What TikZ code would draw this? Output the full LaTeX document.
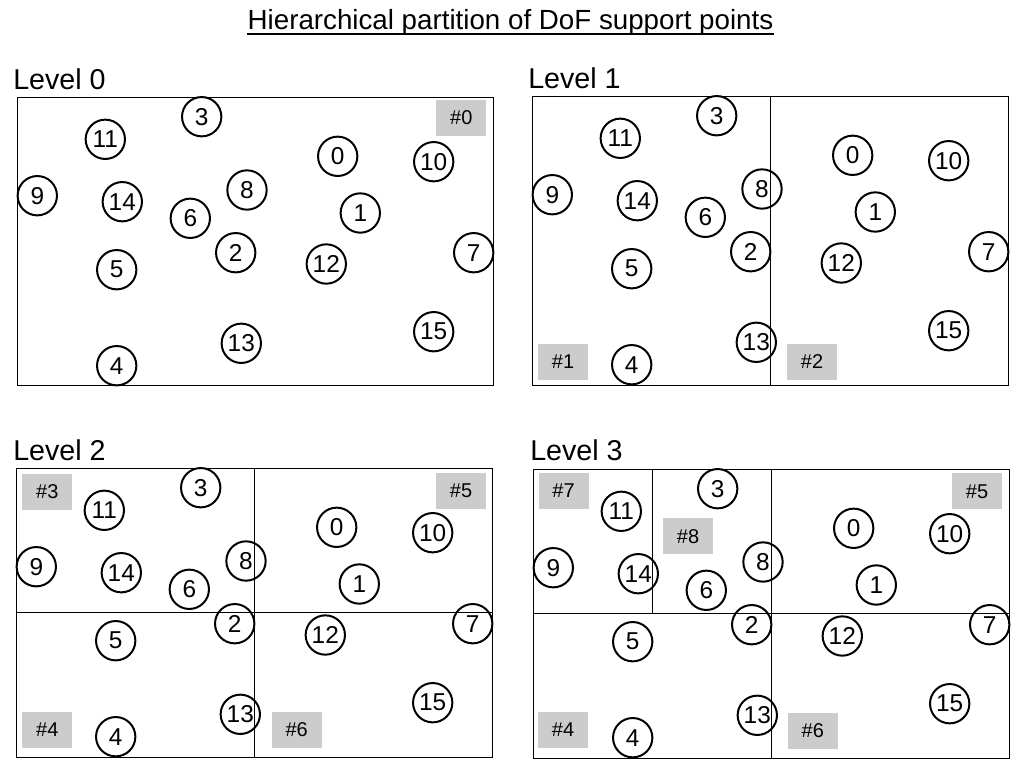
\documentclass[tikz,border=0pt]{standalone}
\usepackage{fontspec}
\setmainfont{Liberation Sans}
\begin{document}
\begin{tikzpicture}[x=0.75pt,y=-0.75pt,
  pt/.style={circle,draw,line width=1.5pt,minimum size=29.5pt,inner sep=0pt,font=\fontsize{18.3pt}{19pt}\selectfont},
  tag/.style={rectangle,fill=black!20,minimum width=37.5pt,minimum height=27pt,inner sep=0pt,font=\fontsize{15pt}{16pt}\selectfont},
  lvl/.style={anchor=base west,inner sep=0pt,font=\fontsize{21.5pt}{22pt}\selectfont},
  frame/.style={draw,line width=0.75pt}]
\useasboundingbox (0,0) rectangle (1011,760);
% title
\node[anchor=base,inner sep=0pt,font=\fontsize{20.8pt}{22pt}\selectfont] (title) at (510.5,30) {Hierarchical partition of DoF support points};
\draw[line width=1.2pt] ([yshift=-3.2pt]title.base west) -- ([yshift=-3.2pt]title.base east);
% level labels
\node[lvl] (l0) at (13,89.3) {Level 0};
\node[lvl] (l1) at (528,88.3) {Level 1};
\node[lvl] (l2) at (13,460.7) {Level 2};
\node[lvl] (l3) at (530,460.7) {Level 3};
% frames and divisions
\draw[frame] (17.3,97.3) rectangle (493.7,385);
\draw[frame] (532.3,96.3) rectangle (1008.7,385);
\draw[frame] (770.7,96.3) -- (770.7,385);
\draw[frame] (16.3,468.3) rectangle (492.7,757);
\draw[frame] (254.3,468.3) -- (254.3,757);
\draw[frame] (16.3,612.3) -- (492.7,612.3);
\draw[frame] (533.3,469.3) rectangle (1009.3,758.3);
\draw[frame] (771.7,469.3) -- (771.7,758.3);
\draw[frame] (533.3,613.3) -- (1009.3,613.3);
\draw[frame] (652.3,469.3) -- (652.3,613.3);
% tags
\node[tag] (t0) at (461.3,118) {\#0};
\node[tag] (t1) at (563,362) {\#1};
\node[tag] (t2) at (812,362) {\#2};
\node[tag] (t3) at (47.3,492) {\#3};
\node[tag] (t5a) at (461,491) {\#5};
\node[tag] (t4a) at (47.3,730) {\#4};
\node[tag] (t6a) at (296.7,730) {\#6};
\node[tag] (t7) at (563.5,491) {\#7};
\node[tag] (t8) at (688,536.2) {\#8};
\node[tag] (t5b) at (977,491.3) {\#5};
\node[tag] (t4b) at (563,730) {\#4};
\node[tag] (t6b) at (812.8,731) {\#6};
% support points
\foreach \p/\dx/\dy in {0/0/0, 1/515/-1, 2/-1/371, 3/516/372}{
  \begin{scope}[shift={(\dx,\dy)}]
    \foreach \n/\x/\y in {0/337.7/156.3, 1/360.3/213, 2/235.7/252.7, 3/201.7/116.7,
      4/116.7/365.7, 5/116.7/269.7, 6/190.3/218.3, 7/473.7/252.7, 8/247/190,
      9/37.3/195.7, 10/433.7/161.7, 11/105.3/139.3, 12/326.3/264, 13/241.3/343.3,
      14/122.3/201.7, 15/433.7/331.7}{
      \node[pt] (p\p-\n) at (\x,\y) {\n};
    }
  \end{scope}
}
\end{tikzpicture}
\end{document}
